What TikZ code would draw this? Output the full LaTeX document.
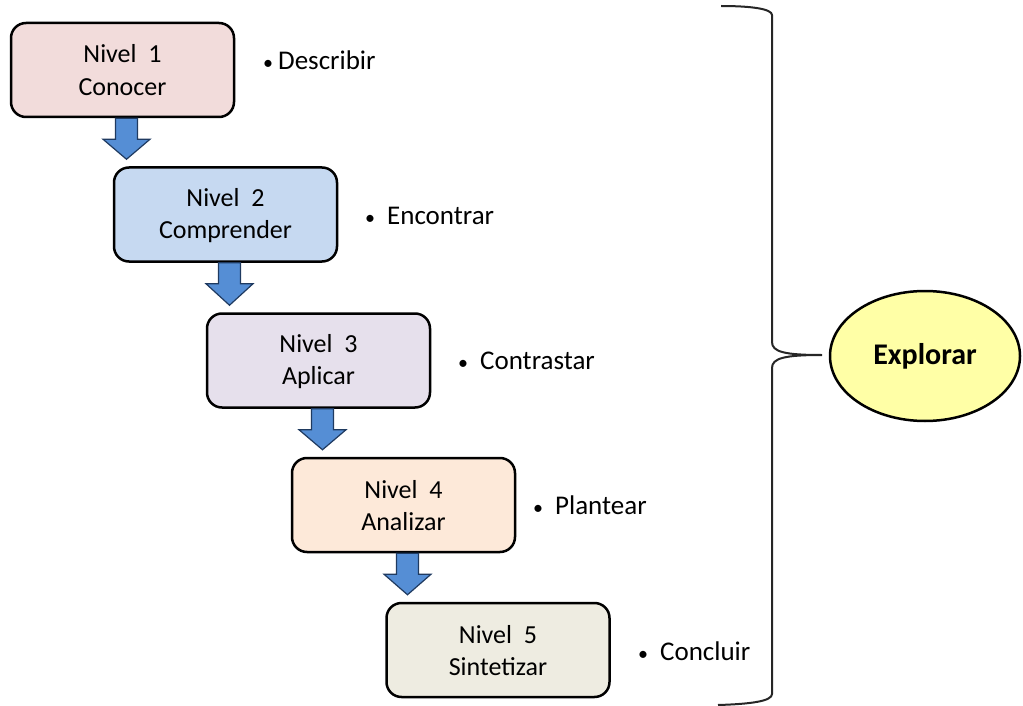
\documentclass[tikz,border=0pt]{standalone}
\usepackage{fontspec}
\setmainfont{Carlito}
\usetikzlibrary{shapes.geometric,calc}
\definecolor{c1}{HTML}{F2DCDB}
\definecolor{c2}{HTML}{C6D9F1}
\definecolor{c3}{HTML}{E6E0EC}
\definecolor{c4}{HTML}{FDE9D9}
\definecolor{c5}{HTML}{EEECE1}
\definecolor{arrowblue}{HTML}{558ED5}
\definecolor{arrowline}{HTML}{1F3A60}
\definecolor{ellfill}{HTML}{FFFFA6}
\newcommand{\lvl}[2]{\rule{0pt}{20pt}#1\\#2\rule[-1.5pt]{0pt}{1.5pt}}
\newcommand{\bdot}{{\fontsize{20}{24}\selectfont •}}
\tikzset{
  level/.style={draw=black, line width=2.5pt, rounded corners=15pt, minimum width=223pt, minimum height=94pt, inner sep=0pt, align=center, font=\fontsize{26}{32.5}\selectfont},
  bul/.style={anchor=base west, inner sep=0pt, font=\fontsize{27}{32}\selectfont},
  barrow/.style={draw=arrowline, line width=1.2pt, fill=arrowblue, line join=miter},
  bracepath/.style={draw=black!85, line width=2pt},
  goal/.style={ellipse, draw=black, line width=2.5pt, fill=ellfill, minimum width=190pt, minimum height=130pt, inner sep=0pt, font=\fontsize{30}{36}\selectfont\bfseries}
}
\begin{document}
\begin{tikzpicture}[x=1pt,y=-1pt]
\useasboundingbox (0,0) rectangle (1023,706);
\node[level, fill=c1] (b1) at (122.5,70) {\lvl{Nivel~~1}{Conocer}};
\node[level, fill=c2] (b2) at (225.5,214.5) {\lvl{Nivel~~2}{Comprender}};
\node[level, fill=c3] (b3) at (318.5,360.5) {\lvl{Nivel~~3}{Aplicar}};
\node[level, fill=c4] (b4) at (403.5,505) {\lvl{Nivel~~4}{Analizar}};
\node[level, fill=c5] (b5) at (498,650) {\lvl{Nivel~~5}{Sintetizar}};
\node[bul] (t1) at (263,70) {\bdot\hspace{5pt}Describir};
\node[bul] (t2) at (365,224) {\bdot\hspace{12pt}Encontrar};
\node[bul] (t3) at (458,369) {\bdot\hspace{12pt}Contrastar};
\node[bul] (t4) at (533,514) {\bdot\hspace{12pt}Plantear};
\node[bul] (t5) at (638,660) {\bdot\hspace{12pt}Concluir};
\node[goal] (e) at (925,356) {Explorar};
\foreach \a/\b in {b1/b2,b2/b3,b3/b4,b4/b5}{
  \coordinate (s) at ($(\a.south)+(4,0)$);
  \coordinate (tip) at ($(\b.north)+(0,-7)$);
  \draw[barrow] ($(s)+(-11,0)$) -- ($(s)+(-11,21)$) -- ($(s)+(-23.5,21)$) -- (s |- tip) -- ($(s)+(23.5,21)$) -- ($(s)+(11,21)$) -- ($(s)+(11,0)$) -- cycle;
}
\coordinate (bt) at (822,355);
\draw[bracepath] (721,6) .. controls (752,6) and (772,9) .. (772,15) -- (772,342)
  .. controls (772,352) and (785,355) .. (bt)
  (bt) .. controls (785,355) and (772,358) .. (772,368) -- (772,694)
  .. controls (772,701) and (752,704) .. (718,705);
\end{tikzpicture}
\end{document}
